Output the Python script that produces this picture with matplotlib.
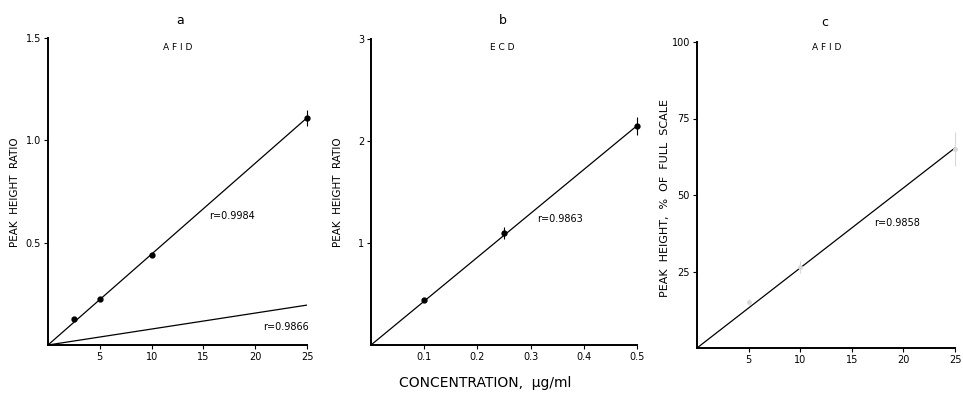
import numpy as np
import matplotlib
matplotlib.use("Agg")
import matplotlib.pyplot as plt

# panel a (AFID)
a_x = [2.5, 5, 10, 25]
a_y = [0.126, 0.223, 0.44, 1.11]
a_err = [0.0, 0.0, 0.0, 0.04]
a_fit_x = [0, 25]
a_fit_y = [0, 1.11]
a_low_x = [0, 25]
a_low_y = [0, 0.195]

# panel b (ECD)
b_x = [0.1, 0.25, 0.5]
b_y = [0.44, 1.10, 2.15]
b_err = [0.0, 0.06, 0.09]
b_fit_x = [0, 0.5]
b_fit_y = [0, 2.15]

# panel c (AFID)
c_x = [5, 10, 25]
c_y = [15, 26.5, 65]
c_err = [1.0, 2.0, 5.5]
c_fit_x = [0, 25]
c_fit_y = [0, 65.4]

W, H = 963, 405
fig = plt.figure(figsize=(W / 100, H / 100), dpi=100)
plt.rcParams['font.family'] = 'DejaVu Sans'
fs = 7


def make_axes(left, right, top, bottom):
    ax = fig.add_axes([left / W, 1 - bottom / H, (right - left) / W, (bottom - top) / H])
    for s in ['top', 'right']:
        ax.spines[s].set_visible(False)
    ax.spines['left'].set_linewidth(1.4)
    ax.spines['bottom'].set_linewidth(1.4)
    ax.tick_params(axis='both', labelsize=fs, length=3, width=0.8, direction='out', pad=2)
    return ax


def ftext(x, y, s, **kw):
    fig.text(x / W, 1 - y / H, s, ha='center', va='center', **kw)


def points(ax, x, y, err, color, ms):
    eb = ax.errorbar(x, y, yerr=err, fmt='o', color=color, ms=ms, elinewidth=0.8, capsize=0)
    for art in eb.get_children():
        art.set_clip_on(False)


# ---- a ----
ax = make_axes(48, 307, 38, 345)
ax.plot(a_fit_x, a_fit_y, color='black', lw=0.9)
ax.plot(a_low_x, a_low_y, color='black', lw=0.9)
points(ax, a_x, a_y, a_err, 'black', 3.5)
ax.set_xlim(0, 25)
ax.set_ylim(0, 1.5)
ax.set_xticks([5, 10, 15, 20, 25])
ax.set_yticks([0.5, 1.0, 1.5])
ax.set_yticklabels(['0.5', '1.0', '1.5'])
ax.text(15.6, 0.63, 'r=0.9984', fontsize=fs, va='center')
ax.text(20.8, 0.088, 'r=0.9866', fontsize=fs, va='center')
ftext(180, 20, 'a', fontsize=9)
ftext(178, 47, 'A F I D', fontsize=6.5)
ftext(15, 192, 'PEAK  HEIGHT  RATIO', fontsize=7.5, rotation=90)

# ---- b ----
ax = make_axes(371, 637, 39, 345)
ax.plot(b_fit_x, b_fit_y, color='black', lw=0.9)
points(ax, b_x, b_y, b_err, 'black', 3.5)
ax.set_xlim(0, 0.5)
ax.set_ylim(0, 3)
ax.set_xticks([0.1, 0.2, 0.3, 0.4, 0.5])
ax.set_xticklabels(['0.1', '0.2', '0.3', '0.4', '0.5'])
ax.set_yticks([1, 2, 3])
ax.text(0.312, 1.24, 'r=0.9863', fontsize=fs, va='center')
ftext(503, 20, 'b', fontsize=9)
ftext(502, 47, 'E C D', fontsize=6.5)
ftext(338, 192, 'PEAK  HEIGHT  RATIO', fontsize=7.5, rotation=90)

# ---- c ----
ax = make_axes(697, 955, 42, 348)
ax.plot(c_fit_x, c_fit_y, color='black', lw=0.9)
points(ax, c_x, c_y, c_err, '#d8d8d8', 2.5)
ax.set_xlim(0, 25)
ax.set_ylim(0, 100)
ax.set_xticks([5, 10, 15, 20, 25])
ax.set_yticks([25, 50, 75, 100])
ax.text(17.2, 40.8, 'r=0.9858', fontsize=fs, va='center')
ftext(825, 22, 'c', fontsize=9)
ftext(827, 48, 'A F I D', fontsize=6.5)
ftext(665, 198, 'PEAK  HEIGHT,  %  OF  FULL  SCALE', fontsize=8, rotation=90)

ftext(485, 383, 'CONCENTRATION,  μg/ml', fontsize=10)

fig.savefig('out.png', dpi=100)
